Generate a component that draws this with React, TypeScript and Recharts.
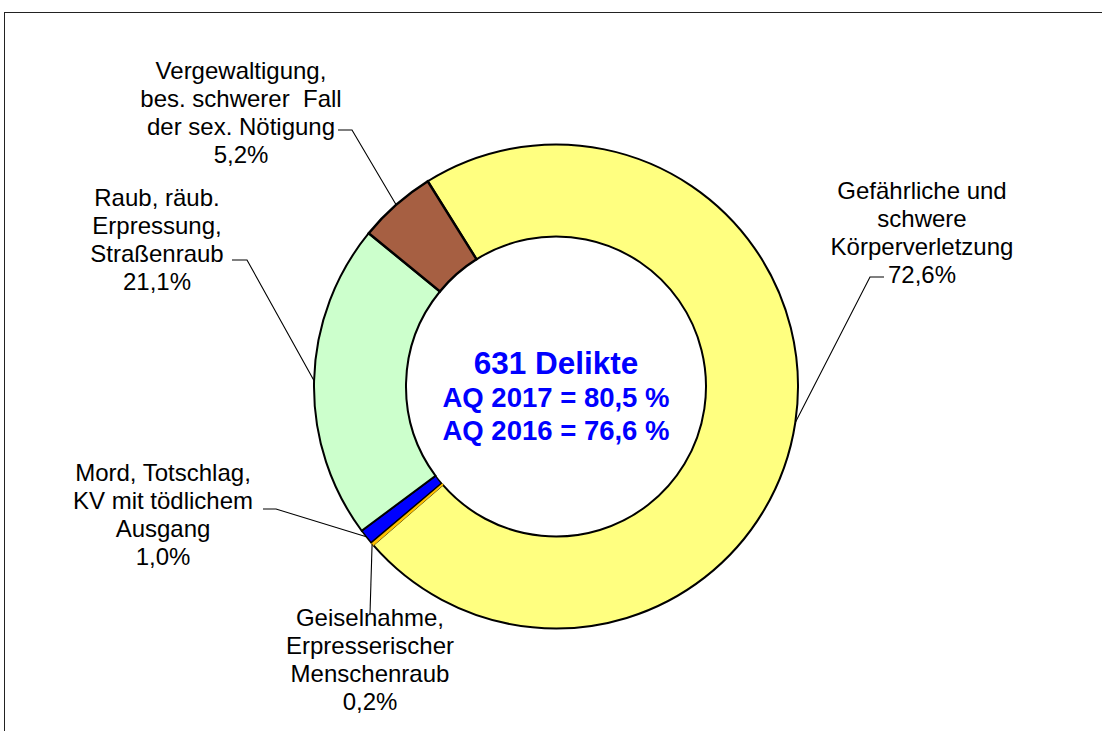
import React from 'react';
import { PieChart, Pie, Cell } from 'recharts';

// ---- data ----
const categories = [
  'Gefährliche und schwere Körperverletzung',
  'Geiselnahme, Erpresserischer Menschenraub',
  'Mord, Totschlag, KV mit tödlichem Ausgang',
  'Raub, räub. Erpressung, Straßenraub',
  'Vergewaltigung, bes. schwerer Fall der sex. Nötigung',
];
const labelLines = [
  ['Gefährliche und', 'schwere', 'Körperverletzung'],
  ['Geiselnahme,', 'Erpresserischer', 'Menschenraub'],
  ['Mord, Totschlag,', 'KV mit tödlichem', 'Ausgang'],
  ['Raub, räub.', 'Erpressung,', 'Straßenraub'],
  ['Vergewaltigung,', 'bes. schwerer  Fall', 'der sex. Nötigung'],
];
const shares = [72.6, 0.2, 1.0, 21.1, 5.2];
const centerLines = ['631 Delikte', 'AQ 2017 = 80,5 %', 'AQ 2016 = 76,6 %'];

// ---- style / layout ----
const colors = ['#FFFF80', '#FFC000', '#0000FF', '#CCFFCC', '#A65F42'];
const strokeColors = ['#000', '#FFC000', '#000', '#000', '#000'];
const sliceStroke = [2, 1.5, 1.5, 2, 2.5];
const labelLayout = [
  { x: 922, y0: 190, leader: [[884, 277], [870, 277]] },
  { x: 370, y0: 617, leader: [[370, 614]] },
  { x: 163, y0: 472, leader: [[263, 509], [276, 509]] },
  { x: 157, y0: 197, leader: [[232, 260], [247, 260]] },
  { x: 241, y0: 70, leader: [[338, 130], [352, 130]] },
];
const centerSizes = [31.5, 27.5, 27.5];
const centerOffsets = [-13, 20, 53];
const FONT = '"Liberation Sans", Arial, sans-serif';
const LABEL_SIZE = 24;
const LINE_H = 28;

const data = categories.map((name, i) => ({ name, value: shares[i] }));
const fmt = (v: number) => v.toFixed(1).replace('.', ',') + '%';

const RAD = Math.PI / 180;

const renderLabel = (props: any) => {
  const { cx, cy, midAngle, outerRadius, index } = props;
  const lay = labelLayout[index];
  const ex = cx + outerRadius * Math.cos(-midAngle * RAD);
  const ey = cy + outerRadius * Math.sin(-midAngle * RAD);
  const pts = [...lay.leader, [ex, ey]];
  const d = pts.map((p, i) => (i === 0 ? 'M' : 'L') + p[0] + ',' + p[1]).join(' ');
  const lines = [...labelLines[index], fmt(shares[index])];
  return (
    <g key={'lbl' + index}>
      <path d={d} stroke="#000" strokeWidth={1.1} fill="none" />
      {lines.map((t, j) => (
        <text
          key={j}
          x={lay.x}
          y={lay.y0 + j * LINE_H + 8.5}
          textAnchor="middle"
          fontFamily={FONT}
          fontSize={LABEL_SIZE}
          fill="#000"
          style={{ whiteSpace: 'pre' }}
        >
          {t}
        </text>
      ))}
      {index === 0 &&
        centerLines.map((t, j) => (
          <text
            key={'c' + j}
            x={cx}
            y={cy + centerOffsets[j]}
            textAnchor="middle"
            fontFamily={FONT}
            fontSize={centerSizes[j]}
            fontWeight="bold"
            fill="#0000FF"
          >
            {t}
          </text>
        ))}
    </g>
  );
};

export default function App() {
  return (
    <div
      style={{
        position: 'absolute',
        left: 0,
        top: 0,
        width: 1102,
        height: 731,
        overflow: 'hidden',
        background: '#fff',
      }}
    >
      <div
        style={{
          position: 'absolute',
          left: 4,
          top: 12,
          width: 1200,
          height: 800,
          borderTop: '1.5px solid #222',
          borderLeft: '1.5px solid #222',
        }}
      />
      <div style={{ position: 'absolute', left: 0, top: 0 }}>
        <PieChart width={1102} height={731} margin={{ top: 0, right: 0, bottom: 0, left: 0 }}>
          <Pie
            data={data}
            dataKey="value"
            nameKey="name"
            cx={556}
            cy={386.5}
            innerRadius={150}
            outerRadius={242}
            startAngle={122}
            endAngle={-238}
            paddingAngle={0}
            label={renderLabel}
            labelLine={false}
            isAnimationActive={false}
          >
            {data.map((d, i) => (
              <Cell
                key={d.name}
                fill={colors[i]}
                stroke={strokeColors[i]}
                strokeWidth={sliceStroke[i]}
              />
            ))}
          </Pie>
        </PieChart>
      </div>
    </div>
  );
}
